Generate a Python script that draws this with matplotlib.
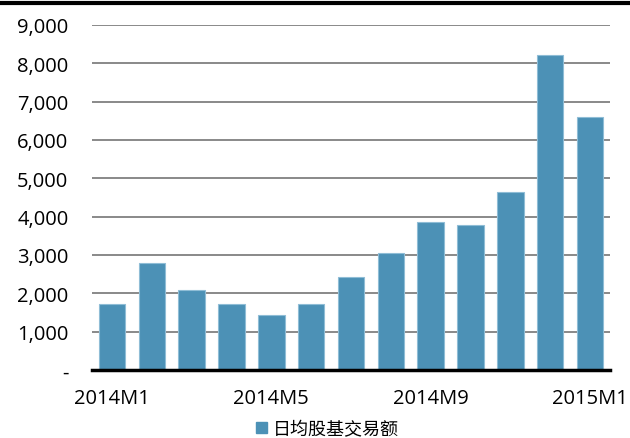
import matplotlib
matplotlib.use("Agg")
import matplotlib.pyplot as plt
from matplotlib.patches import Patch
from matplotlib.lines import Line2D
from matplotlib.ticker import FuncFormatter

months = ["2014M1", "2014M2", "2014M3", "2014M4", "2014M5", "2014M6", "2014M7",
          "2014M8", "2014M9", "2014M10", "2014M11", "2014M12", "2015M1"]
values = [1720, 2790, 2085, 1720, 1435, 1710, 2425, 3055, 3850, 3790, 4635, 8225, 6590]
shown_ticks = ["2014M1", "2014M5", "2014M9", "2015M1"]
series_name = "日均股基交易额"

plt.rcParams['font.family'] = ['Open Sans', 'DejaVu Sans']

fig = plt.figure(figsize=(6.3, 4.39), dpi=100)
ax = fig.add_axes([92/630, 1-371/439, (610-92)/630, (371-26)/439])

x = list(range(len(months)))
ax.bar(x, values, width=0.665, color="#4c91b6", edgecolor="#8fbdd6", linewidth=0.8, zorder=3)

ax.set_xlim(-0.5, len(months)-0.5)
ax.set_ylim(0, 9000)
ax.set_yticks(range(0, 9001, 1000))
ax.yaxis.set_major_formatter(FuncFormatter(lambda v, p: "-" if v == 0 else f"{int(v):,}"))
ax.grid(axis='y', color="#808080", linewidth=1.3, zorder=0)
ax.set_axisbelow(True)

idx = [months.index(m) for m in shown_ticks]
ax.set_xticks(idx)
ax.set_xticklabels(shown_ticks)

for s in ["top", "right", "left"]:
    ax.spines[s].set_visible(False)
ax.spines["bottom"].set_linewidth(2.5)
ax.spines["bottom"].set_color("black")
ax.spines["bottom"].set_zorder(5)

ax.tick_params(axis='both', length=0, labelsize=14.5, colors="black")
ax.tick_params(axis='y', pad=17)
ax.tick_params(axis='x', pad=13)

# top rule
fig.add_artist(Line2D([0, 1], [1-4/439, 1-4/439], color="black", linewidth=3, transform=fig.transFigure))

handle = Patch(facecolor="#4c91b6", edgecolor="#4c91b6")
fig.legend([handle], [series_name], loc="center", bbox_to_anchor=(0.52, 1-430/439),
           frameon=False, prop={'family': ['Noto Sans CJK SC', 'DejaVu Sans'], 'size': 13},
           handlelength=0.6, handleheight=0.6, handletextpad=0.3)

fig.savefig("out.png", dpi=100)
